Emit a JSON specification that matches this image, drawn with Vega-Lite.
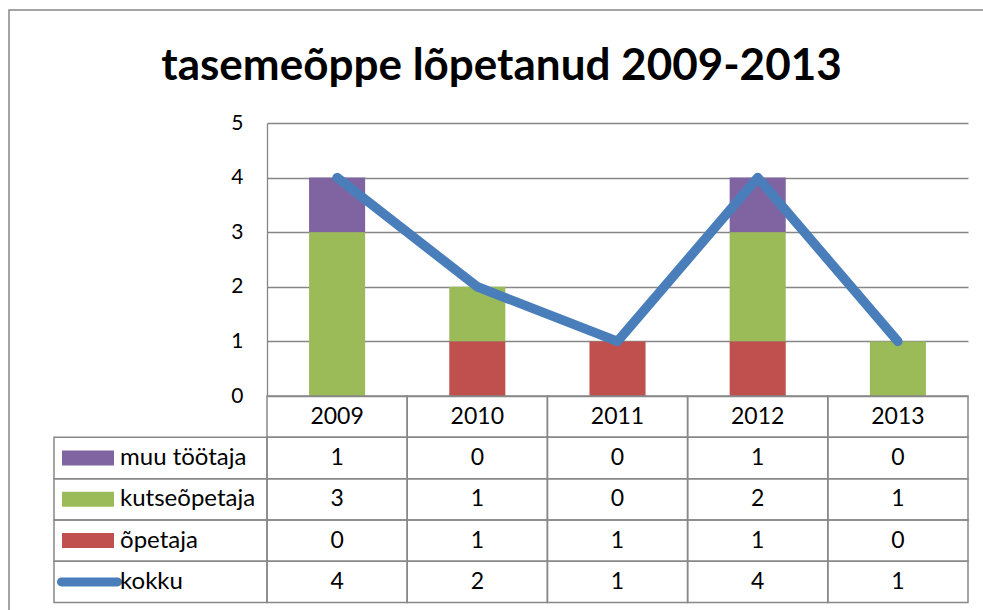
{
  "$schema": "https://vega.github.io/schema/vega-lite/v6.json",
  "width": 701,
  "height": 273,
  "autosize": "none",
  "padding": {"left": 267, "top": 123, "right": 15, "bottom": 214},
  "background": "white",
  "config": {"font": "Lato", "view": {"stroke": null}},
  "title": {"text": "tasemeõppe lõpetanud 2009-2013", "font": "Lato", "fontSize": 44, "fontWeight": "bold", "color": "black", "anchor": "middle", "frame": "group", "dx": -116, "baseline": "alphabetic", "offset": -115},
  "datasets": {
    "d": [
      {"year": "2009", "series": "muu töötaja", "value": 1},
      {"year": "2009", "series": "kutseõpetaja", "value": 3},
      {"year": "2009", "series": "õpetaja", "value": 0},
      {"year": "2009", "series": "kokku", "value": 4},
      {"year": "2010", "series": "muu töötaja", "value": 0},
      {"year": "2010", "series": "kutseõpetaja", "value": 1},
      {"year": "2010", "series": "õpetaja", "value": 1},
      {"year": "2010", "series": "kokku", "value": 2},
      {"year": "2011", "series": "muu töötaja", "value": 0},
      {"year": "2011", "series": "kutseõpetaja", "value": 0},
      {"year": "2011", "series": "õpetaja", "value": 1},
      {"year": "2011", "series": "kokku", "value": 1},
      {"year": "2012", "series": "muu töötaja", "value": 1},
      {"year": "2012", "series": "kutseõpetaja", "value": 2},
      {"year": "2012", "series": "õpetaja", "value": 1},
      {"year": "2012", "series": "kokku", "value": 4},
      {"year": "2013", "series": "muu töötaja", "value": 0},
      {"year": "2013", "series": "kutseõpetaja", "value": 1},
      {"year": "2013", "series": "õpetaja", "value": 0},
      {"year": "2013", "series": "kokku", "value": 1}
    ]
  },
  "data": {"name": "d"},
  "resolve": {"scale": {"x": "independent", "y": "independent"}},
  "layer": [
    {
      "encoding": {
        "x": {"field": "year", "type": "ordinal", "scale": {"type": "band", "paddingInner": 0, "paddingOuter": 0}, "axis": null},
        "color": {"field": "series", "type": "nominal", "scale": {"domain": ["muu töötaja", "kutseõpetaja", "õpetaja", "kokku"], "range": ["#8064A2", "#9BBB59", "#C0504D", "#4A7EBB"]}, "legend": null}
      },
      "layer": [
        {
          "transform": [
            {"filter": "datum.series != 'kokku'"},
            {"calculate": "indexof(['õpetaja','kutseõpetaja','muu töötaja'], datum.series)", "as": "k"}
          ],
          "mark": {"type": "bar", "width": {"band": 0.4}},
          "encoding": {
            "y": {"field": "value", "type": "quantitative", "stack": "zero",
              "scale": {"domain": [0, 5], "nice": false},
              "axis": {"values": [0, 1, 2, 3, 4, 5], "title": null, "grid": true, "gridColor": "#868686", "gridWidth": 1.3, "domain": true, "domainColor": "#868686", "domainWidth": 1.3, "ticks": false, "labelPadding": 24, "labelFontSize": 21, "labelColor": "black", "labelFont": "Lato"}},
            "order": {"field": "k", "type": "quantitative"}
          }
        },
        {
          "transform": [{"filter": "datum.series == 'kokku'"}],
          "mark": {"type": "line", "strokeWidth": 9.5, "strokeCap": "round", "strokeJoin": "round"},
          "encoding": {
            "x": {"field": "year", "type": "ordinal", "bandPosition": 0.5},
            "y": {"field": "value", "type": "quantitative"}
          }
        }
      ]
    },
    {
      "resolve": {"scale": {"x": "independent"}},
      "encoding": {
        "y": {"field": "series", "type": "nominal", "scale": {"type": "band", "domain": ["header", "muu töötaja", "kutseõpetaja", "õpetaja", "kokku"], "range": [273, 479.6], "paddingInner": 0, "paddingOuter": 0}, "axis": null}
      },
      "layer": [
        {
          "encoding": {
            "x": {"field": "year", "type": "ordinal", "scale": {"type": "band", "paddingInner": 0, "paddingOuter": 0}, "axis": null}
          },
          "layer": [
            {
              "mark": {"type": "rect", "fill": "transparent", "stroke": "#888888", "strokeWidth": 1.5}
            },
            {
              "transform": [{"filter": "datum.series == 'kokku'"}],
              "mark": {"type": "rect", "fill": "transparent", "stroke": "#888888", "strokeWidth": 1.5},
              "encoding": {"y": {"datum": "header"}}
            },
            {
              "mark": {"type": "text", "fontSize": 23, "color": "black", "font": "Lato"},
              "encoding": {"text": {"field": "value", "type": "quantitative"}}
            },
            {
              "transform": [{"filter": "datum.series == 'kokku'"}],
              "mark": {"type": "text", "fontSize": 23, "color": "black", "font": "Lato"},
              "encoding": {"y": {"datum": "header"}, "text": {"field": "year", "type": "nominal"}}
            }
          ]
        },
        {
          "transform": [{"filter": "datum.year == '2009'"}],
          "layer": [
            {
              "mark": {"type": "rect", "fill": "transparent", "stroke": "#888888", "strokeWidth": 1.5},
              "encoding": {
                "x": {"datum": 0, "type": "quantitative", "scale": {"domain": [0, 1], "range": [-213, 0]}, "axis": null},
                "x2": {"datum": 1}
              }
            },
            {
              "transform": [{"filter": "datum.series != 'kokku'"}],
              "mark": {"type": "bar", "height": 15},
              "encoding": {
                "x": {"datum": 0.0376, "type": "quantitative", "scale": {"domain": [0, 1], "range": [-213, 0]}, "axis": null},
                "x2": {"datum": 0.2817},
                "color": {"field": "series", "type": "nominal", "legend": null}
              }
            },
            {
              "transform": [{"filter": "datum.series == 'kokku'"}],
              "mark": {"type": "rule", "strokeWidth": 9, "strokeCap": "round"},
              "encoding": {
                "x": {"datum": 0.035, "type": "quantitative", "scale": {"domain": [0, 1], "range": [-213, 0]}, "axis": null},
                "x2": {"datum": 0.298},
                "y": {"field": "series", "type": "nominal", "bandPosition": 0.5},
                "color": {"field": "series", "type": "nominal", "legend": null}
              }
            },
            {
              "mark": {"type": "text", "align": "left", "fontSize": 24, "color": "black", "font": "Lato"},
              "encoding": {
                "x": {"datum": 0.31, "type": "quantitative", "scale": {"domain": [0, 1], "range": [-213, 0]}, "axis": null},
                "text": {"field": "series", "type": "nominal"}
              }
            }
          ]
        }
      ]
    },
    {
      "transform": [{"filter": "datum.series == 'kokku' && datum.year == '2009'"}],
      "mark": {"type": "rect", "fill": "transparent", "stroke": "#868686", "strokeWidth": 1.5},
      "encoding": {
        "x": {"datum": 0, "type": "quantitative", "scale": {"domain": [0, 1], "range": [-258, 740]}, "axis": null},
        "x2": {"datum": 1},
        "y": {"datum": 0, "type": "quantitative", "scale": {"domain": [0, 1], "range": [-113, 520]}, "axis": null},
        "y2": {"datum": 1}
      }
    }
  ]
}
